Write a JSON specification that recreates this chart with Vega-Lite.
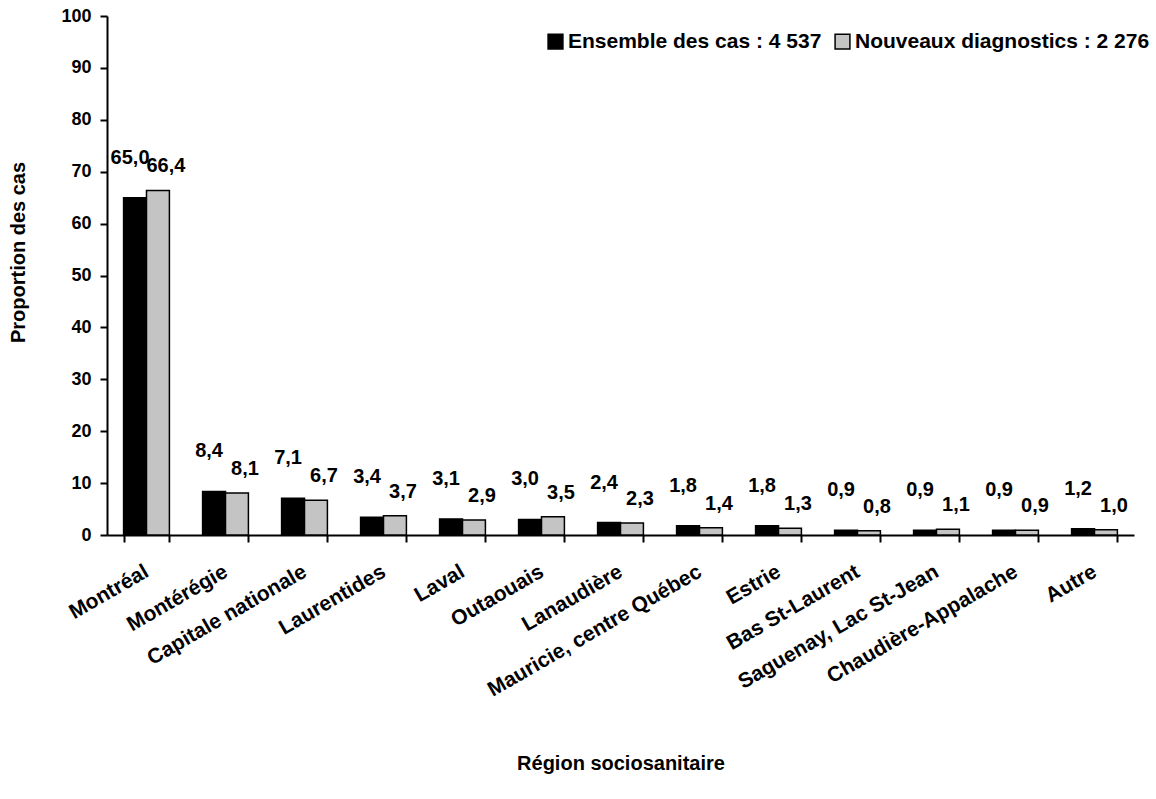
{
  "$schema": "https://vega.github.io/schema/vega-lite/v6.json",
  "width": 1027,
  "height": 519,
  "autosize": {"type": "none"},
  "padding": {"left": 107, "top": 16, "right": 22, "bottom": 264},
  "background": "white",
  "config": {
    "view": {"stroke": null},
    "font": "Liberation Sans",
    "locale": {"number": {"decimal": ",", "thousands": " ", "grouping": [3], "currency": ["", ""]}}
  },
  "data": {
    "values": [
      {"region": "Montréal", "serie": "Ensemble des cas : 4 537", "valeur": 65.0},
      {"region": "Montréal", "serie": "Nouveaux diagnostics : 2 276", "valeur": 66.4},
      {"region": "Montérégie", "serie": "Ensemble des cas : 4 537", "valeur": 8.4},
      {"region": "Montérégie", "serie": "Nouveaux diagnostics : 2 276", "valeur": 8.1},
      {"region": "Capitale nationale", "serie": "Ensemble des cas : 4 537", "valeur": 7.1},
      {"region": "Capitale nationale", "serie": "Nouveaux diagnostics : 2 276", "valeur": 6.7},
      {"region": "Laurentides", "serie": "Ensemble des cas : 4 537", "valeur": 3.4},
      {"region": "Laurentides", "serie": "Nouveaux diagnostics : 2 276", "valeur": 3.7},
      {"region": "Laval", "serie": "Ensemble des cas : 4 537", "valeur": 3.1},
      {"region": "Laval", "serie": "Nouveaux diagnostics : 2 276", "valeur": 2.9},
      {"region": "Outaouais", "serie": "Ensemble des cas : 4 537", "valeur": 3.0},
      {"region": "Outaouais", "serie": "Nouveaux diagnostics : 2 276", "valeur": 3.5},
      {"region": "Lanaudière", "serie": "Ensemble des cas : 4 537", "valeur": 2.4},
      {"region": "Lanaudière", "serie": "Nouveaux diagnostics : 2 276", "valeur": 2.3},
      {"region": "Mauricie, centre Québec", "serie": "Ensemble des cas : 4 537", "valeur": 1.8},
      {"region": "Mauricie, centre Québec", "serie": "Nouveaux diagnostics : 2 276", "valeur": 1.4},
      {"region": "Estrie", "serie": "Ensemble des cas : 4 537", "valeur": 1.8},
      {"region": "Estrie", "serie": "Nouveaux diagnostics : 2 276", "valeur": 1.3},
      {"region": "Bas St-Laurent", "serie": "Ensemble des cas : 4 537", "valeur": 0.9},
      {"region": "Bas St-Laurent", "serie": "Nouveaux diagnostics : 2 276", "valeur": 0.8},
      {"region": "Saguenay, Lac St-Jean", "serie": "Ensemble des cas : 4 537", "valeur": 0.9},
      {"region": "Saguenay, Lac St-Jean", "serie": "Nouveaux diagnostics : 2 276", "valeur": 1.1},
      {"region": "Chaudière-Appalache", "serie": "Ensemble des cas : 4 537", "valeur": 0.9},
      {"region": "Chaudière-Appalache", "serie": "Nouveaux diagnostics : 2 276", "valeur": 0.9},
      {"region": "Autre", "serie": "Ensemble des cas : 4 537", "valeur": 1.2},
      {"region": "Autre", "serie": "Nouveaux diagnostics : 2 276", "valeur": 1.0}
    ]
  },
  "encoding": {
    "x": {
      "field": "region",
      "type": "nominal",
      "sort": null,
      "scale": {"paddingInner": 0.42, "paddingOuter": 0.21},
      "axis": {
        "title": "Région sociosanitaire",
        "titleFontSize": 20,
        "titleFontWeight": "bold",
        "titleColor": "black",
        "titleY": 218,
        "labelAngle": -30,
        "labelAlign": "right",
        "labelBaseline": "middle",
        "labelFontSize": 21,
        "labelFontWeight": "bold",
        "labelColor": "black",
        "labelPadding": 28,
        "labelLimit": 400,
        "tickBand": "extent",
        "ticks": true,
        "tickColor": "black",
        "tickWidth": 2,
        "tickSize": 7,
        "domainColor": "black",
        "domainWidth": 2
      }
    },
    "xOffset": {"field": "serie", "type": "nominal", "sort": null},
    "y": {
      "field": "valeur",
      "type": "quantitative",
      "scale": {"domain": [0, 100], "nice": false},
      "axis": {
        "title": "Proportion des cas",
        "titleFontSize": 20,
        "titleFontWeight": "bold",
        "titleColor": "black",
        "titleX": -89,
        "titleY": 236,
        "titleBaseline": "middle",
        "values": [0, 10, 20, 30, 40, 50, 60, 70, 80, 90, 100],
        "grid": false,
        "labelFontSize": 18,
        "labelFontWeight": "bold",
        "labelColor": "black",
        "labelPadding": 9,
        "tickColor": "black",
        "tickWidth": 2,
        "tickSize": 7,
        "domainColor": "black",
        "domainWidth": 2
      }
    }
  },
  "layer": [
    {
      "mark": {"type": "bar", "stroke": "black", "strokeWidth": 1.5},
      "encoding": {
        "color": {
          "field": "serie",
          "type": "nominal",
          "sort": null,
          "scale": {"domain": ["Ensemble des cas : 4 537", "Nouveaux diagnostics : 2 276"], "range": ["#000000", "#c4c4c4"]},
          "legend": {
            "title": null,
            "orient": "none",
            "legendX": 438,
            "legendY": 15,
            "direction": "horizontal",
            "symbolType": "square",
            "symbolSize": 220,
            "symbolStrokeColor": "black",
            "symbolStrokeWidth": 1.5,
            "labelFontSize": 21,
            "labelFontWeight": "bold",
            "labelColor": "black",
            "labelLimit": 400,
            "labelOffset": 2,
            "columnPadding": 10
          }
        }
      }
    },
    {
      "transform": [{"filter": "datum.serie === 'Ensemble des cas : 4 537'"}],
      "mark": {"type": "text", "baseline": "middle", "dx": -5, "dy": -40, "fontSize": 20, "fontWeight": "bold", "color": "black"},
      "encoding": {
        "text": {"field": "valeur", "type": "quantitative", "format": ".1f"}
      }
    },
    {
      "transform": [{"filter": "datum.serie === 'Nouveaux diagnostics : 2 276'"}],
      "mark": {"type": "text", "baseline": "middle", "dx": 8, "dy": -24, "fontSize": 20, "fontWeight": "bold", "color": "black"},
      "encoding": {
        "text": {"field": "valeur", "type": "quantitative", "format": ".1f"}
      }
    }
  ]
}
